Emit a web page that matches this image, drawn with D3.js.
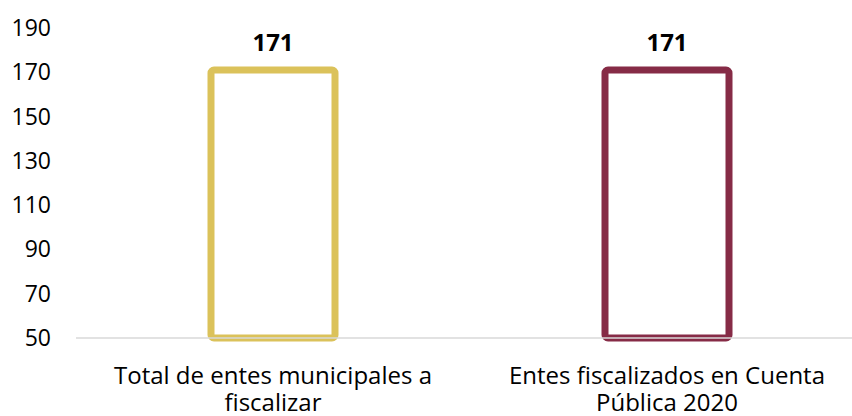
<!DOCTYPE html>
<html>
<head>
<meta charset="utf-8">
<script src="https://cdn.jsdelivr.net/npm/d3@7"></script>
<style>
  body { margin: 0; background: #fff; }
  svg { display: block; font-family: "Open Sans", sans-serif; }
</style>
</head>
<body>
<svg id="chart"></svg>
<script>
const categories = [
  ["Total de entes municipales a", "fiscalizar"],
  ["Entes fiscalizados en Cuenta", "Pública 2020"],
];
const values = [171, 171];
const colors = ["#dbc25a", "#862b46"];
const yTicks = [50, 70, 90, 110, 130, 150, 170, 190];

const width = 852, height = 416;
const svg = d3.select("#chart").attr("width", width).attr("height", height);

const x = d3.scaleBand().domain(d3.range(categories.length)).range([76, 864]);
const y = d3.scaleLinear().domain([50, 190]).range([338, 28]);
const barW = 124;

// y tick labels
svg.append("g")
  .selectAll("text")
  .data(yTicks)
  .join("text")
  .attr("x", 51)
  .attr("y", d => y(d))
  .attr("dy", "0.35em")
  .attr("text-anchor", "end")
  .attr("font-size", 23)
  .attr("fill", "#000")
  .text(d => d);

// bars (outlined)
svg.append("g")
  .selectAll("rect")
  .data(values)
  .join("rect")
  .attr("x", (d, i) => x(i) + x.bandwidth() / 2 - barW / 2)
  .attr("y", d => y(d))
  .attr("width", barW)
  .attr("height", d => y(50) - y(d))
  .attr("rx", 3)
  .attr("fill", "#fff")
  .attr("stroke", (d, i) => colors[i])
  .attr("stroke-width", 7);

// baseline
svg.append("line")
  .attr("x1", 76).attr("x2", width)
  .attr("y1", y(50)).attr("y2", y(50))
  .attr("stroke", "#d9d9d9")
  .attr("stroke-width", 1.5);

// value labels
svg.append("g")
  .selectAll("text")
  .data(values)
  .join("text")
  .attr("x", (d, i) => x(i) + x.bandwidth() / 2)
  .attr("y", d => y(d) - 19)
  .attr("text-anchor", "middle")
  .attr("font-size", 24)
  .attr("font-weight", "bold")
  .text(d => d);

// category labels
const cat = svg.append("g")
  .selectAll("text")
  .data(categories)
  .join("text")
  .attr("x", (d, i) => x(i) + x.bandwidth() / 2)
  .attr("y", 384)
  .attr("text-anchor", "middle")
  .attr("font-size", 24);
cat.selectAll("tspan")
  .data(d => d)
  .join("tspan")
  .attr("x", function () { return d3.select(this.parentNode).attr("x"); })
  .attr("dy", (d, i) => i ? 27 : 0)
  .text(d => d);
</script>
</body>
</html>
